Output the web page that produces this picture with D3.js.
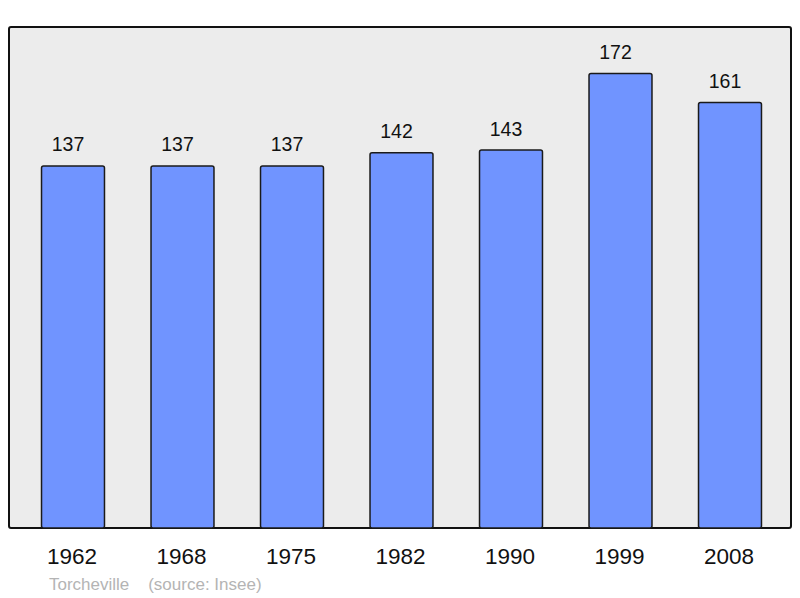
<!DOCTYPE html>
<html>
<head>
<meta charset="utf-8">
<script src="https://cdn.jsdelivr.net/npm/d3@7"></script>
<style>
  body { margin: 0; background: #fff; }
  svg { display: block; }
</style>
</head>
<body>
<div id="chart"></div>
<script>
const WIDTH = 800;
const HEIGHT = 598;

// donnees
const years = ['1962', '1968', '1975', '1982', '1990', '1999', '2008'];
const population = [137, 137, 137, 142, 143, 172, 161];
const commune = 'Torcheville';
const source = '(source: Insee)';

const svg = d3.select('#chart').append('svg')
    .attr('width', WIDTH).attr('height', HEIGHT);

// fond du graphique
svg.append('rect')
    .attr('x', 9).attr('y', 27)
    .attr('width', 782).attr('height', 501)
    .attr('rx', 2)
    .attr('fill', '#ececec')
    .attr('stroke', '#111').attr('stroke-width', 2);

const x = d3.scaleBand().domain(years)
    .range([18.25, 784.75])
    .paddingInner(0.425).paddingOuter(0.2125);

const y = d3.scaleLinear().domain([0, 190]).range([528, 25.8]);

const data = years.map((yr, i) => ({ year: yr, value: population[i] }));

// barres
svg.append('g').selectAll('rect').data(data).join('rect')
    .attr('x', d => x(d.year))
    .attr('y', d => y(d.value))
    .attr('width', x.bandwidth())
    .attr('height', d => y(0) - y(d.value))
    .attr('rx', 2)
    .attr('fill', '#7094ff')
    .attr('stroke', '#1a1a1a').attr('stroke-width', 1.5);

// valeurs au dessus des barres
svg.append('g').selectAll('text').data(data).join('text')
    .attr('x', d => x(d.year) + x.bandwidth() / 2 - 5)
    .attr('y', d => y(d.value) - 14.5)
    .attr('text-anchor', 'middle')
    .attr('font-family', 'Liberation Sans, Arial, sans-serif')
    .attr('font-size', 19.5)
    .attr('fill', '#111')
    .text(d => d.value);

// axe des annees
const xAxis = svg.append('g')
    .attr('transform', 'translate(0, 528)')
    .call(d3.axisBottom(x).tickSize(0).tickPadding(0));
xAxis.select('.domain').remove();
xAxis.selectAll('text')
    .attr('dy', 0).attr('y', 36).attr('x', -1)
    .attr('font-family', 'Liberation Sans, Arial, sans-serif')
    .attr('font-size', 22.5)
    .attr('fill', '#111');

// source
svg.append('text')
    .attr('x', 49).attr('y', 590)
    .attr('font-family', 'Liberation Sans, Arial, sans-serif')
    .attr('font-size', 17)
    .attr('fill', '#b4b4b4')
    .attr('xml:space', 'preserve')
    .text(commune + '    ' + source);
</script>
</body>
</html>
